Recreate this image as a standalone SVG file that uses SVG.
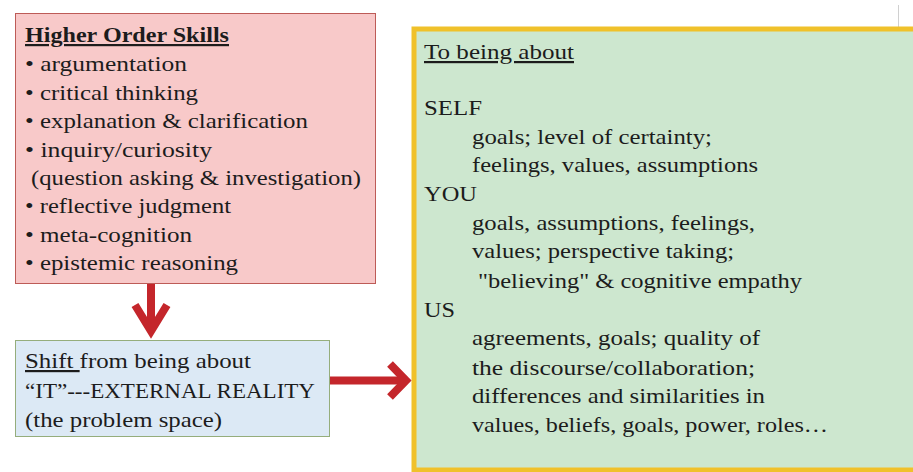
<svg xmlns="http://www.w3.org/2000/svg" width="913" height="472" viewBox="0 0 913 472">
<style>
text{font-family:'Liberation Serif','DejaVu Serif','Noto Serif',serif;font-size:22px;fill:#1c1c1c}
.b{font-weight:bold}
.u{text-decoration:underline}
.arr{fill:none;stroke:#c4262b;stroke-width:8;stroke-linejoin:miter;stroke-miterlimit:10}
</style>
<rect width="913" height="472" fill="#ffffff"/>
<line x1="898.5" y1="5" x2="898.5" y2="27" stroke="#d0d0d0" stroke-width="1"/>
<g id="skills">
<rect x="15.5" y="13.5" width="360" height="270" fill="#f8c9c9" stroke="#bd5b57" stroke-width="1"/>
<text x="25" y="42" class="b u" textLength="204" lengthAdjust="spacingAndGlyphs">Higher Order Skills</text>
<text x="25" y="71" textLength="162" lengthAdjust="spacingAndGlyphs">• argumentation</text>
<text x="25" y="100" textLength="173" lengthAdjust="spacingAndGlyphs">• critical thinking</text>
<text x="25" y="128" textLength="283" lengthAdjust="spacingAndGlyphs">• explanation &amp; clarification</text>
<text x="25" y="157" textLength="187" lengthAdjust="spacingAndGlyphs">• inquiry/curiosity</text>
<text x="31" y="185" textLength="330" lengthAdjust="spacingAndGlyphs">(question asking &amp; investigation)</text>
<text x="25" y="213" textLength="206" lengthAdjust="spacingAndGlyphs">• reflective judgment</text>
<text x="25" y="242" textLength="167" lengthAdjust="spacingAndGlyphs">• meta-cognition</text>
<text x="25" y="270" textLength="213" lengthAdjust="spacingAndGlyphs">• epistemic reasoning</text>
</g>
<g id="shift">
<rect x="15.5" y="340.5" width="314" height="96" fill="#dce9f5" stroke="#95ad7c" stroke-width="1"/>
<text x="25" y="368" textLength="226" lengthAdjust="spacingAndGlyphs"><tspan class="u">Shift </tspan>from being about</text>
<text x="25" y="398" textLength="290" lengthAdjust="spacingAndGlyphs">“IT”---EXTERNAL REALITY</text>
<text x="25" y="427" textLength="197" lengthAdjust="spacingAndGlyphs">(the problem space)</text>
</g>
<g id="about">
<rect x="414" y="29" width="510" height="441" fill="#cde7cf" stroke="#f0c12a" stroke-width="5"/>
<text x="424" y="59" class="u" textLength="150" lengthAdjust="spacingAndGlyphs">To being about</text>
<text x="424" y="115" textLength="58" lengthAdjust="spacingAndGlyphs">SELF</text>
<text x="472" y="144" textLength="240" lengthAdjust="spacingAndGlyphs">goals; level of certainty;</text>
<text x="472" y="172" textLength="286" lengthAdjust="spacingAndGlyphs">feelings, values, assumptions</text>
<text x="424" y="201" textLength="53" lengthAdjust="spacingAndGlyphs">YOU</text>
<text x="472" y="230" textLength="283" lengthAdjust="spacingAndGlyphs">goals, assumptions, feelings,</text>
<text x="472" y="258" textLength="262" lengthAdjust="spacingAndGlyphs">values; perspective taking;</text>
<text x="478" y="288" textLength="324" lengthAdjust="spacingAndGlyphs">"believing" &amp; cognitive empathy</text>
<text x="424" y="317" textLength="31" lengthAdjust="spacingAndGlyphs">US</text>
<text x="472" y="345" textLength="288" lengthAdjust="spacingAndGlyphs">agreements, goals; quality of</text>
<text x="472" y="375" textLength="283" lengthAdjust="spacingAndGlyphs">the discourse/collaboration;</text>
<text x="472" y="403" textLength="293" lengthAdjust="spacingAndGlyphs">differences and similarities in</text>
<text x="472" y="432" textLength="356" lengthAdjust="spacingAndGlyphs">values, beliefs, goals, power, roles…</text>
</g>
<g id="connectors">
<path class="arr" d="M151,284 V332"/>
<polyline class="arr" points="135,305 151,331 167,305"/>
<path class="arr" d="M330,380.5 H406"/>
<polyline class="arr" points="390,364 406,380.5 390,397"/>
</g>
</svg>
